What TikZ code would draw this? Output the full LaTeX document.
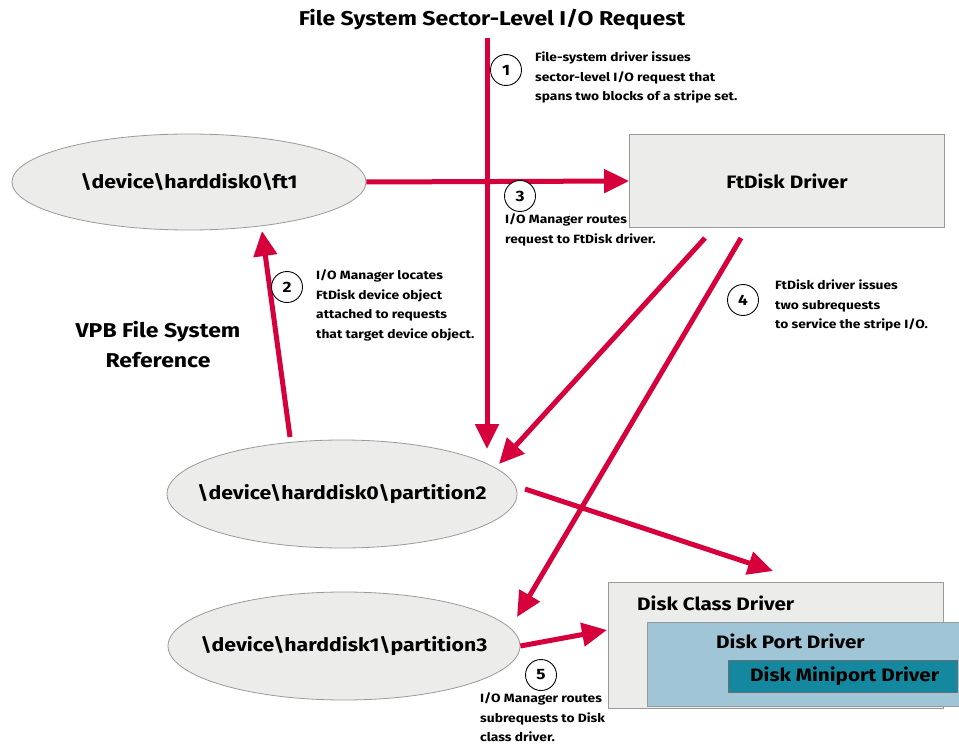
\documentclass[tikz,border=0pt]{standalone}
\usepackage{fontspec}
\setmainfont{Fira Sans}[FakeStretch=1.15]
\usetikzlibrary{shapes.geometric,arrows.meta}
\definecolor{crim}{HTML}{D5003C}
\definecolor{ellfill}{HTML}{ECECEA}
\definecolor{ellline}{HTML}{9A9A9A}
\definecolor{portfill}{HTML}{9FC5D6}
\definecolor{minifill}{HTML}{13889F}
\tikzset{
  ell/.style={ellipse, draw=ellline, fill=ellfill, line width=0.8pt, font=\bfseries\fontsize{18.5}{20}\selectfont, inner xsep=-30pt, inner ysep=0pt},
  graybox/.style={draw=ellline, fill=ellfill, line width=0.8pt},
  arr/.style={draw=crim, line width=5pt, -{Triangle[length=25pt,width=23pt]}},
  num/.style={circle, draw=black, line width=0.9pt, fill=white, minimum size=31pt, inner sep=0pt, font=\bfseries\fontsize{15}{15}\selectfont},
  note/.style={anchor=north west, align=left, inner sep=0pt, font=\bfseries\fontsize{12}{19.5}\selectfont},
  lbl/.style={font=\bfseries\fontsize{18}{20}\selectfont, inner sep=0pt}
}
\begin{document}
\begin{tikzpicture}[x=1pt,y=-1pt]
\useasboundingbox (0,0) rectangle (959,749);
% title
\node[font=\bfseries\fontsize{20}{22}\selectfont, inner sep=0pt] (title) at (492,20) {File System Sector-Level I/O Request};
% nodes
\node[ell, minimum width=354pt, minimum height=96pt] (ft1) at (189,182) {\textbackslash device\textbackslash harddisk0\textbackslash ft1};
\node[graybox, minimum width=315pt, minimum height=93pt, lbl] (ftdisk) at (787,181) {FtDisk Driver};
\node[ell, minimum width=350pt, minimum height=108pt] (p2) at (342,494) {\textbackslash device\textbackslash harddisk0\textbackslash partition2};
\node[ell, minimum width=352pt, minimum height=108pt] (p3) at (344,646) {\textbackslash device\textbackslash harddisk1\textbackslash partition3};
% disk stack
\draw[graybox] (608,582) rectangle (943,708);
\node[lbl, anchor=west] (dclass) at (637,603) {Disk Class Driver};
\draw[draw=ellline, fill=portfill, line width=0.8pt] (647,622) rectangle (966,706);
\node[lbl, anchor=west] (dport) at (716,641) {Disk Port Driver};
\draw[draw=ellline!70!black, fill=minifill, line width=0.6pt] (728,660) rectangle (957,692);
\node[lbl, anchor=west] (dmini) at (750,676) {Disk Miniport Driver};
\coordinate (dclasstop) at (773,571);
\coordinate (dclassleft) at (607,630);
% VPB label
\node[font=\bfseries\fontsize{20}{30}\selectfont, align=center, inner sep=0pt] (vpb) at (158,345) {VPB File System\\Reference};
% coordinates for arrows
\coordinate (a1s) at (487,38);
\coordinate (a1e) at (487,449);
\coordinate (a2s) at (290,437);
\coordinate (a2e) at (262,231);
\coordinate (a4s) at (705,238);
\coordinate (a4e) at (499,464);
\coordinate (a5s) at (741,238);
\coordinate (a5e) at (517,617);
\coordinate (a6s) at (525,489);
% arrows
\draw[arr] (a1s) -- (a1e);
\draw[arr] (a2s) -- (a2e);
\draw[arr] (ft1.east) -- (ftdisk.west);
\draw[arr] (a4s) -- (a4e);
\draw[arr] (a5s) -- (a5e);
\draw[arr] (a6s) -- (dclasstop);
\draw[arr] (p3.east) -- (dclassleft);
% numbers
\node[num] (n1) at (506,70) {1};
\node[num] (n2) at (287,287) {2};
\node[num] (n3) at (520,196) {3};
\node[num] (n4) at (743,300) {4};
\node[num] (n5) at (541,675) {5};
% notes
\node[note] (t1) at (535,52) {File-system driver issues\\sector-level I/O request that\\spans two blocks of a stripe set.};
\node[note] (t2) at (316,270) {I/O Manager locates\\FtDisk device object\\attached to requests\\that target device object.};
\node[note] (t3) at (505,214) {I/O Manager routes\\request to FtDisk driver.};
\node[note] (t4) at (775,280) {FtDisk driver issues\\two subrequests\\to service the stripe I/O.};
\node[note] (t5) at (480,693) {I/O Manager routes\\subrequests to Disk\\class driver.};
\end{tikzpicture}
\end{document}
